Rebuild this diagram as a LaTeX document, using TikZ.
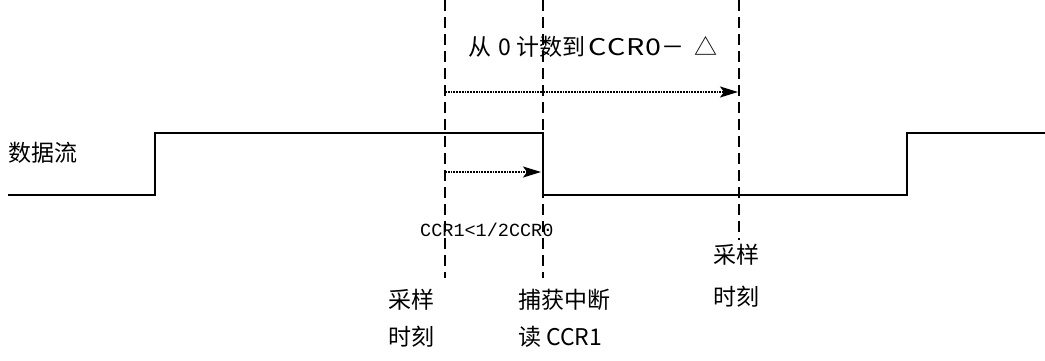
\documentclass[tikz,border=0pt]{standalone}
\usepackage{fontspec}
\setmainfont{Noto Sans CJK SC}
\newfontfamily\monof{Liberation Mono}
\usetikzlibrary{arrows.meta}
\begin{document}
\begin{tikzpicture}[x=1pt,y=-1pt,
  sig/.style={line width=2.6pt},
  vline/.style={line width=2.4pt, dash pattern=on 11pt off 6pt},
  darr/.style={line width=2pt, dash pattern=on 1.8pt off 1pt, -{Stealth[length=18pt,width=11pt,inset=4pt]}},
  lbl/.style={font=\fontsize{23}{27}\selectfont, inner sep=0pt, anchor=west},
  mlbl/.style={font=\monof\fontsize{18.5}{22}\selectfont, inner sep=0pt, anchor=west}]
\useasboundingbox (0,0) rectangle (1045,360);
% signal points
\coordinate (s0) at (8,195);
\coordinate (s1) at (155,195);
\coordinate (s2) at (155,133);
\coordinate (s3) at (543,133);
\coordinate (s4) at (543,195);
\coordinate (s5) at (907,195);
\coordinate (s6) at (907,133);
\coordinate (s7) at (1045,133);
\draw[sig] (s0) -- (s1) -- (s2) -- (s3) -- (s4) -- (s5) -- (s6) -- (s7);
% dashed sample lines
\coordinate (a0) at (445,0);   \coordinate (a1) at (445,278);
\coordinate (b0) at (543,0);   \coordinate (b1) at (543,278);
\coordinate (c0) at (739,0);   \coordinate (c1) at (739,240);
\draw[vline] (a0) -- (a1);
\draw[vline] (b0) -- (b1);
\draw[vline] (c0) -- (c1);
% dotted arrows
\coordinate (p0) at (445,92);  \coordinate (p1) at (738,92);
\coordinate (q0) at (445,172); \coordinate (q1) at (541,172);
\draw[darr] (p0) -- (p1);
\draw[darr] (q0) -- (q1);
% labels
\node[lbl] (data) at (8,153) {数据流};
\node[lbl] (title) at (468,47) {从\hspace{7pt}0\hspace{6pt}计数到\hspace{3pt}{\addfontfeature{FakeStretch=1.25,LetterSpace=4}CCR0}－\hspace{10pt}△};
\node[mlbl] (cond) at (420,230) {CCR1<1/2CCR0};
\node[lbl] (sa1) at (388,300) {采样};
\node[lbl] (sb1) at (388,337) {时刻};
\node[lbl] (ca1) at (518,300) {捕获中断};
\node[lbl] (cb1) at (518,337) {读 CCR1};
\node[lbl] (sa2) at (713,255) {采样};
\node[lbl] (sb2) at (713,297) {时刻};
\end{tikzpicture}
\end{document}
